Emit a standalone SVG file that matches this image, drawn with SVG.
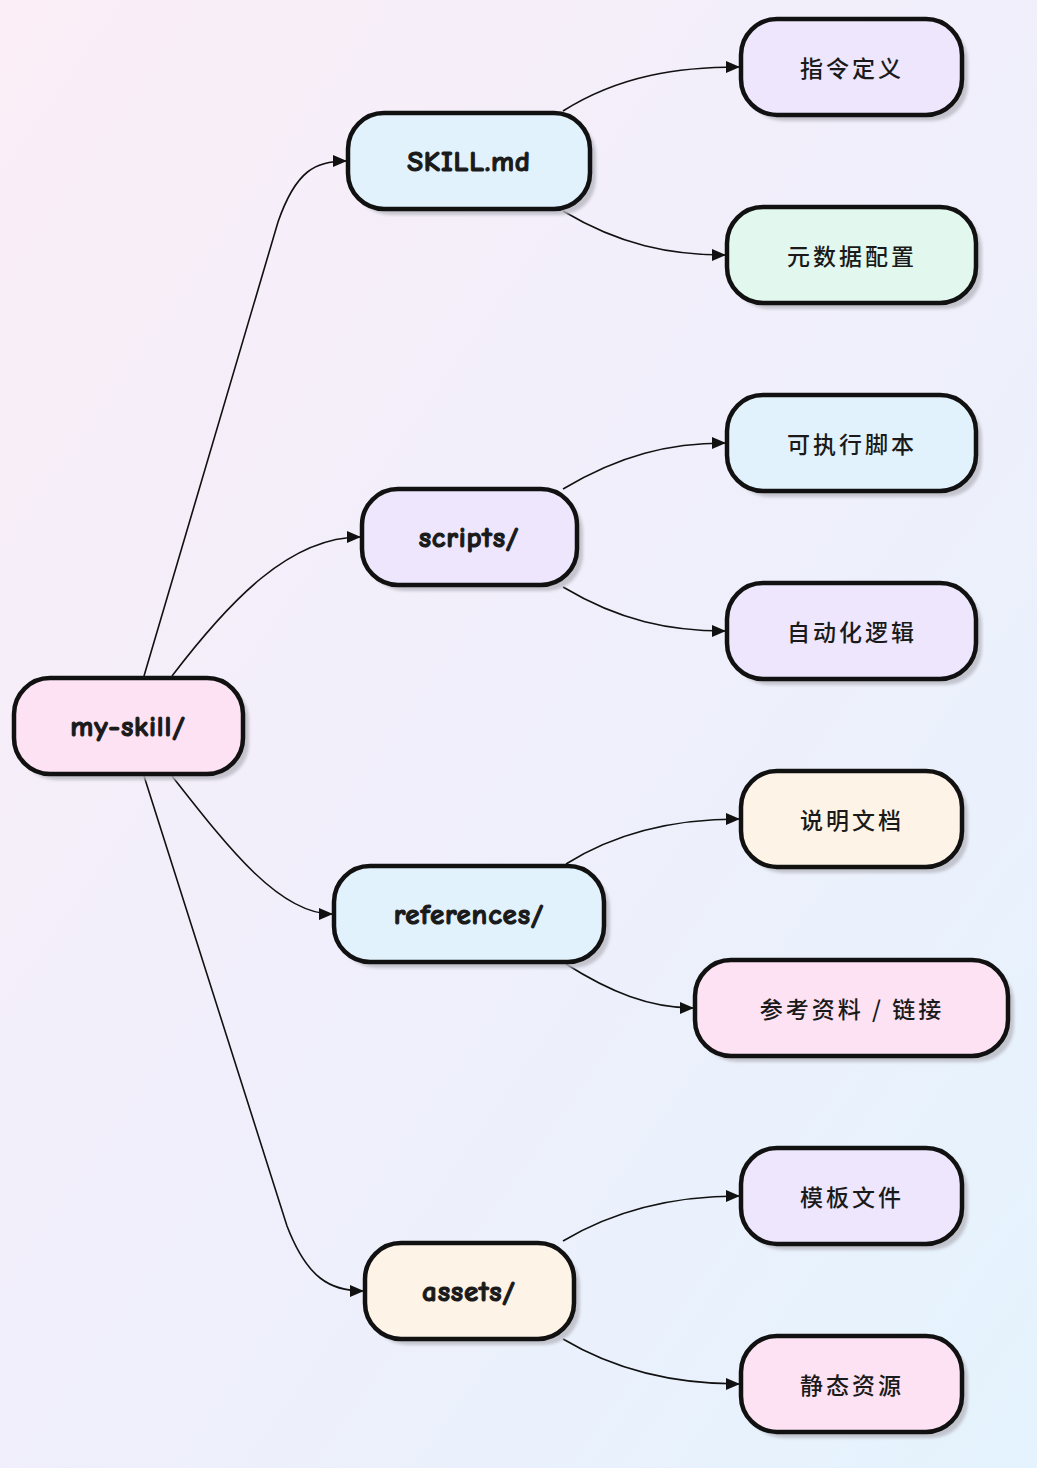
<svg xmlns="http://www.w3.org/2000/svg" width="1037" height="1468" viewBox="0 0 1037 1468">
<defs>
<linearGradient id="bg" x1="0" y1="0" x2="1" y2="1">
<stop offset="0" stop-color="#fbeef7"/>
<stop offset="0.5" stop-color="#f0effb"/>
<stop offset="1" stop-color="#e4f3fd"/>
</linearGradient>
<filter id="blur" x="-20%" y="-20%" width="140%" height="140%"><feGaussianBlur stdDeviation="1.5"/></filter>
<marker id="arr" markerUnits="userSpaceOnUse" markerWidth="14" markerHeight="12" refX="13" refY="6" orient="auto">
<path d="M0,0 L14,6 L0,12 Z" fill="#111"/>
</marker>
<style>
.sh{fill:#b9b9c2;opacity:0.8;filter:url(#blur)}
.box{stroke:#111;stroke-width:4.5}
.pink{fill:#fde2f3}.blue{fill:#e2f2fd}.lav{fill:#ede6fc}.mint{fill:#e2f8ef}.cream{fill:#fdf3e6}
.lt{font-family:"Comic Neue","Lato","Noto Sans",sans-serif;font-weight:700;font-size:29px;fill:#1a1a1a;stroke:#1a1a1a;stroke-width:1.1px;text-anchor:middle;dominant-baseline:central;letter-spacing:0.8px}
.ct{font-family:"Noto Sans CJK SC","Noto Sans",sans-serif;font-weight:500;font-size:23px;fill:#1a1a1a;text-anchor:middle;dominant-baseline:central;letter-spacing:3px}
.e{fill:none;stroke:#111;stroke-width:1.6}
</style>
</defs>
<rect width="1037" height="1468" fill="url(#bg)"/>
<g id="connectors">
<path class="e" d="M144,676 L278,222 C296,170 316,161 346,161" marker-end="url(#arr)"/>
<path class="e" d="M172,676 C230,600 290,537 360,537" marker-end="url(#arr)"/>
<path class="e" d="M172,776 C230,850 280,914 332,914" marker-end="url(#arr)"/>
<path class="e" d="M144,776 L287,1226 C307,1278 330,1291 363,1291" marker-end="url(#arr)"/>
<path class="e" d="M563,111 C620,75 680,67 739,67" marker-end="url(#arr)"/>
<path class="e" d="M563,211 C620,245 670,255 725,255" marker-end="url(#arr)"/>
<path class="e" d="M563,489 C620,455 670,443 725,443" marker-end="url(#arr)"/>
<path class="e" d="M563,587 C620,621 670,631 725,631" marker-end="url(#arr)"/>
<path class="e" d="M566,864 C620,830 680,819 739,819" marker-end="url(#arr)"/>
<path class="e" d="M566,964 C610,992 650,1008 693,1008" marker-end="url(#arr)"/>
<path class="e" d="M563,1241 C620,1207 680,1196 739,1196" marker-end="url(#arr)"/>
<path class="e" d="M563,1339 C620,1373 680,1384 739,1384" marker-end="url(#arr)"/>
</g>
<g id="n-root"><rect class="sh" x="20" y="684" width="229" height="96" rx="36"/><rect class="box pink" x="14" y="678" width="229" height="96" rx="36"/><text class="lt" x="128" y="726">my-skill/</text></g>
<g id="n-skill"><rect class="sh" x="354" y="119" width="242" height="96" rx="36"/><rect class="box blue" x="348" y="113" width="242" height="96" rx="36"/><text class="lt" x="469" y="161">SKILL.md</text></g>
<g id="n-scripts"><rect class="sh" x="368" y="495" width="215" height="96" rx="36"/><rect class="box lav" x="362" y="489" width="215" height="96" rx="36"/><text class="lt" x="469" y="537">scripts/</text></g>
<g id="n-refs"><rect class="sh" x="340" y="872" width="270" height="96" rx="36"/><rect class="box blue" x="334" y="866" width="270" height="96" rx="36"/><text class="lt" x="469" y="914">references/</text></g>
<g id="n-assets"><rect class="sh" x="371" y="1249" width="209" height="96" rx="36"/><rect class="box cream" x="365" y="1243" width="209" height="96" rx="36"/><text class="lt" x="469" y="1291">assets/</text></g>
<g id="n-l1"><rect class="sh" x="747" y="25" width="221" height="96" rx="36"/><rect class="box lav" x="741" y="19" width="221" height="96" rx="36"/><text class="ct" x="852" y="67">指令定义</text></g>
<g id="n-l2"><rect class="sh" x="733" y="213" width="249" height="96" rx="36"/><rect class="box mint" x="727" y="207" width="249" height="96" rx="36"/><text class="ct" x="852" y="255">元数据配置</text></g>
<g id="n-l3"><rect class="sh" x="733" y="401" width="249" height="96" rx="36"/><rect class="box blue" x="727" y="395" width="249" height="96" rx="36"/><text class="ct" x="852" y="443">可执行脚本</text></g>
<g id="n-l4"><rect class="sh" x="733" y="589" width="249" height="96" rx="36"/><rect class="box lav" x="727" y="583" width="249" height="96" rx="36"/><text class="ct" x="852" y="631">自动化逻辑</text></g>
<g id="n-l5"><rect class="sh" x="747" y="777" width="221" height="96" rx="36"/><rect class="box cream" x="741" y="771" width="221" height="96" rx="36"/><text class="ct" x="852" y="819">说明文档</text></g>
<g id="n-l6"><rect class="sh" x="701" y="966" width="313" height="96" rx="36"/><rect class="box pink" x="695" y="960" width="313" height="96" rx="36"/><text class="ct" x="852" y="1008">参考资料 / 链接</text></g>
<g id="n-l7"><rect class="sh" x="747" y="1154" width="221" height="96" rx="36"/><rect class="box lav" x="741" y="1148" width="221" height="96" rx="36"/><text class="ct" x="852" y="1196">模板文件</text></g>
<g id="n-l8"><rect class="sh" x="747" y="1342" width="221" height="96" rx="36"/><rect class="box pink" x="741" y="1336" width="221" height="96" rx="36"/><text class="ct" x="852" y="1384">静态资源</text></g>
</svg>
